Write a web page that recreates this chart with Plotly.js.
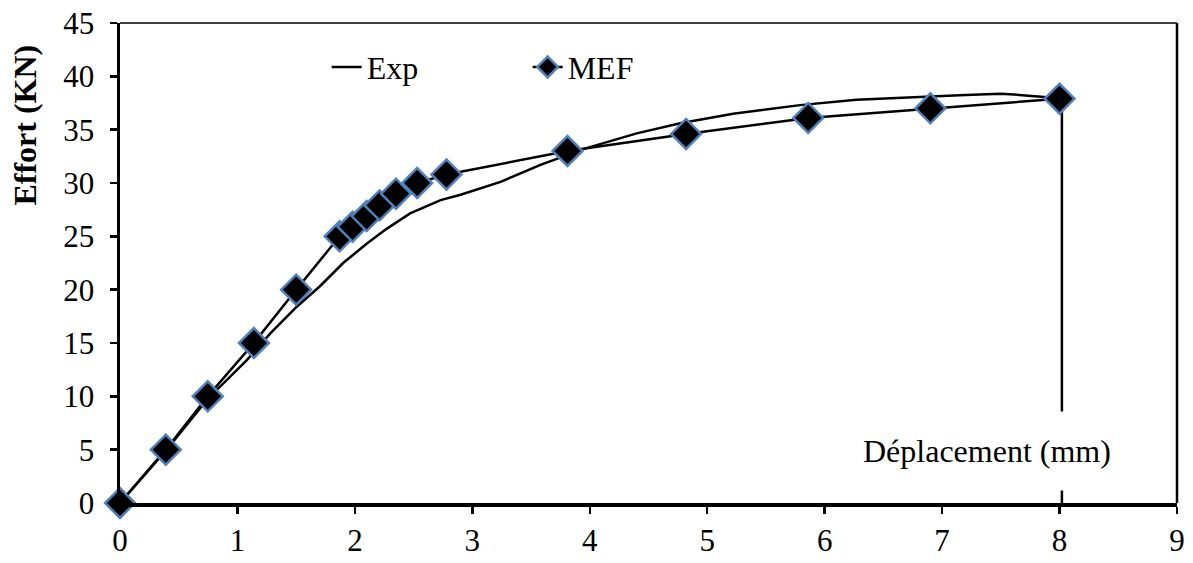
<!DOCTYPE html>
<html>
<head>
<meta charset="utf-8">
<script src="https://cdn.plot.ly/plotly-3.0.1.min.js"></script>
<style>html,body{margin:0;padding:0;background:#fff;}#chart{width:1193px;height:563px;}</style>
</head>
<body>
<div id="chart"></div>
<script>
// Experimental curve (Exp)
var expX = [0, 0.39, 0.75, 0.85, 1.08, 1.28, 1.505, 1.70, 1.90, 2.10, 2.27, 2.47, 2.73, 2.90, 3.05, 3.24, 3.58, 3.95, 4.40, 4.77, 5.22, 5.79, 6.27, 6.81, 7.20, 7.50, 7.61, 8.00, 8.02, 8.02];
var expY = [0, 4.9, 9.8, 10.9, 13.4, 15.9, 18.4, 20.3, 22.5, 24.3, 25.7, 27.15, 28.4, 28.9, 29.4, 30.1, 31.7, 33.2, 34.65, 35.6, 36.5, 37.3, 37.8, 38.1, 38.25, 38.36, 38.3, 37.95, 37.9, 0];
// Finite element model (MEF)
var mefX = [0, 0.39, 0.747, 1.14, 1.50, 1.87, 1.98, 2.10, 2.21, 2.35, 2.53, 2.78, 3.81, 4.82, 5.86, 6.90, 8.0];
var mefY = [0, 5.0, 10.0, 15.0, 20.0, 25.0, 25.9, 26.9, 27.9, 29.0, 30.0, 30.8, 33.0, 34.6, 36.1, 37.0, 37.9];
var xTicks = [0, 1, 2, 3, 4, 5, 6, 7, 8, 9];
var yTicks = [0, 5, 10, 15, 20, 25, 30, 35, 40, 45];
var xTitle = 'Déplacement (mm)';
var yTitle = 'Effort (KN)';

var FONT = 'Liberation Serif, Times New Roman, serif';

var traces = [
  {x: expX, y: expY, name: 'Exp', mode: 'lines', type: 'scatter', cliponaxis: false,
   line: {color: '#000000', width: 2.5}},
  {x: mefX, y: mefY, name: 'MEF', mode: 'lines+markers', type: 'scatter', cliponaxis: false,
   line: {color: '#000000', width: 2.5},
   marker: {symbol: 'diamond', size: 23, color: '#000000', line: {color: '#4F81BD', width: 2.5}}}
];

var layout = {
  width: 1193, height: 563,
  margin: {l: 120, r: 16, t: 23, b: 60},
  paper_bgcolor: '#ffffff', plot_bgcolor: '#ffffff',
  font: {family: FONT, size: 31, color: '#000000'},
  showlegend: true,
  legend: {orientation: 'h', x: 0.1955, y: 0.908, xanchor: 'left', yanchor: 'middle',
           entrywidth: 156, entrywidthmode: 'pixels',
           font: {family: FONT, size: 32, color: '#000'}, bgcolor: 'rgba(0,0,0,0)'},
  xaxis: {range: [0, 9], tickvals: xTicks, ticktext: xTicks.map(String),
          showgrid: false, zeroline: false, showline: true, linecolor: '#000', linewidth: 3.5,
          ticks: 'outside', ticklen: 7, tickwidth: 2.5, tickcolor: '#000',
          tickfont: {family: FONT, size: 31}, fixedrange: true},
  yaxis: {range: [0, 45], tickvals: yTicks, ticktext: yTicks.map(String),
          showgrid: false, zeroline: false, showline: true, linecolor: '#000', linewidth: 3.5,
          ticks: 'outside', ticklen: 7, tickwidth: 2.5, tickcolor: '#000',
          ticklabelstandoff: 9,
          tickfont: {family: FONT, size: 31},
          fixedrange: true},
  shapes: [
    {type: 'line', xref: 'paper', yref: 'paper', x0: 0, x1: 1, y0: 1, y1: 1, line: {color: '#000', width: 1.5}},
    {type: 'line', xref: 'paper', yref: 'paper', x0: 1, x1: 1, y0: 0, y1: 1, line: {color: '#000', width: 2.5}}
  ],
  annotations: [
    {text: xTitle, x: 7.38, y: 4.9, xref: 'x', yref: 'y', showarrow: false,
     font: {family: FONT, size: 32, color: '#000'}, bgcolor: '#ffffff', borderpad: 21},
    {text: '<b>' + yTitle + '</b>', x: -0.0903, y: 0.7875, xref: 'paper', yref: 'paper',
     xanchor: 'center', yanchor: 'middle', textangle: -90, showarrow: false,
     font: {family: FONT, size: 32, color: '#000'}}
  ]
};

Plotly.newPlot('chart', traces, layout, {displayModeBar: false, staticPlot: true});
</script>
</body>
</html>
